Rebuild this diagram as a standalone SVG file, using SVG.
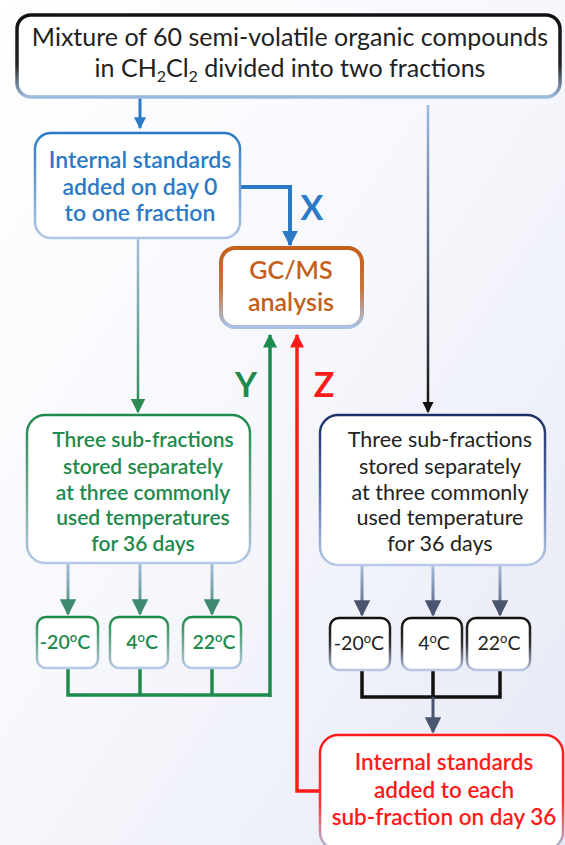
<svg xmlns="http://www.w3.org/2000/svg" width="565" height="845" viewBox="0 0 565 845">
<defs>
<linearGradient id="bg" x1="0" y1="0" x2="1" y2="1"><stop offset="0" stop-color="#ffffff"/><stop offset="0.5" stop-color="#f6f7fc"/><stop offset="1" stop-color="#e6e8f5"/></linearGradient>
<linearGradient id="gTop" x1="0" y1="0" x2="0" y2="1"><stop offset="0" stop-color="#111"/><stop offset="0.6" stop-color="#222"/><stop offset="1" stop-color="#9dbbe0"/></linearGradient>
<linearGradient id="gBlue" x1="0" y1="0" x2="0" y2="1"><stop offset="0" stop-color="#2a7ac6"/><stop offset="1" stop-color="#b0c6e6"/></linearGradient>
<linearGradient id="gOr" x1="0" y1="0" x2="0" y2="1"><stop offset="0" stop-color="#c4601c"/><stop offset="0.5" stop-color="#c8733a"/><stop offset="1" stop-color="#a9c2e6"/></linearGradient>
<linearGradient id="gGreen" x1="0" y1="0" x2="0" y2="1"><stop offset="0" stop-color="#1e8a4c"/><stop offset="0.5" stop-color="#6aa88a"/><stop offset="1" stop-color="#b8c8e6"/></linearGradient>
<linearGradient id="gNavy" x1="0" y1="0" x2="0" y2="1"><stop offset="0" stop-color="#1c2f66"/><stop offset="0.5" stop-color="#5570a8"/><stop offset="1" stop-color="#b8c8e6"/></linearGradient>
<linearGradient id="gBlack" x1="0" y1="0" x2="0" y2="1"><stop offset="0" stop-color="#111"/><stop offset="0.5" stop-color="#333"/><stop offset="1" stop-color="#b8c8e6"/></linearGradient>
<linearGradient id="gRed" x1="0" y1="0" x2="0" y2="1"><stop offset="0" stop-color="#ff1a1a"/><stop offset="0.6" stop-color="#ff3030"/><stop offset="1" stop-color="#a9c2e6"/></linearGradient>
<linearGradient id="gConG" gradientUnits="userSpaceOnUse" x1="0" y1="238" x2="0" y2="415"><stop offset="0" stop-color="#a8bedf"/><stop offset="1" stop-color="#2c8a55"/></linearGradient>
<linearGradient id="gConSG" gradientUnits="userSpaceOnUse" x1="0" y1="563" x2="0" y2="617"><stop offset="0" stop-color="#a8bedf"/><stop offset="1" stop-color="#3f8a6e"/></linearGradient>
<linearGradient id="gConSN" gradientUnits="userSpaceOnUse" x1="0" y1="565" x2="0" y2="618"><stop offset="0" stop-color="#a8bedf"/><stop offset="1" stop-color="#4a5570"/></linearGradient>
<linearGradient id="gConD" gradientUnits="userSpaceOnUse" x1="0" y1="105" x2="0" y2="415"><stop offset="0" stop-color="#9dbbe0"/><stop offset="1" stop-color="#111"/></linearGradient>
<marker id="aBlue" viewBox="0 0 10 10" refX="9" refY="5" markerWidth="4" markerHeight="4" orient="auto"><path d="M0,0 L10,5 L0,10 z" fill="#2a7ac6"/></marker>
<marker id="aGreen" viewBox="0 0 10 10" refX="9" refY="5" markerWidth="4" markerHeight="4" orient="auto"><path d="M0,0 L10,5 L0,10 z" fill="#1e8a4c"/></marker>
<marker id="aGreenL" viewBox="0 0 10 10" refX="9" refY="5" markerWidth="6" markerHeight="6" orient="auto"><path d="M0,0 L10,5 L0,10 z" fill="#2c8a55"/></marker>
<marker id="aTeal" viewBox="0 0 10 10" refX="9" refY="5" markerWidth="5.5" markerHeight="5.5" orient="auto"><path d="M0,0 L10,5 L0,10 z" fill="#3f8a6e"/></marker>
<marker id="aSlate" viewBox="0 0 10 10" refX="9" refY="5" markerWidth="5.5" markerHeight="5.5" orient="auto"><path d="M0,0 L10,5 L0,10 z" fill="#4a5570"/></marker>
<marker id="aBlack" viewBox="0 0 10 10" refX="9" refY="5" markerWidth="4.5" markerHeight="4.5" orient="auto"><path d="M0,0 L10,5 L0,10 z" fill="#111"/></marker>
<marker id="aRed" viewBox="0 0 10 10" refX="9" refY="5" markerWidth="4" markerHeight="4" orient="auto"><path d="M0,0 L10,5 L0,10 z" fill="#ff1a1a"/></marker>
</defs>
<style>
text{font-family:Lato,"Open Sans","Liberation Sans",sans-serif;text-anchor:middle}
.box{fill:#fff}
.t-top{font-size:25px;fill:#222}
.t-blue{font-size:23px;fill:#2a7ac6;font-weight:600}
.t-or{font-size:25px;fill:#c4601c;font-weight:600}
.t-green{font-size:21px;fill:#1e8a4c;font-weight:600}
.t-dark{font-size:21.5px;fill:#222}
.t-red{font-size:22.5px;fill:#ff1a1a;font-weight:600}
.t-sg{font-size:19.5px;fill:#1e8a4c;font-weight:600}
.t-sd{font-size:19.5px;fill:#222}
.lbl{font-size:34px;font-weight:700}
.con{fill:none;stroke-linejoin:miter}
</style>
<rect width="565" height="845" fill="url(#bg)"/>

<g id="connectors">
<path class="con" d="M140,97 V128" stroke="#2a7ac6" stroke-width="3" marker-end="url(#aBlue)"/>
<path class="con" d="M428,105 V412" stroke="url(#gConD)" stroke-width="2.5" marker-end="url(#aBlack)"/>
<path class="con" d="M240,187 H290 V245" stroke="#2a7ac6" stroke-width="4" marker-end="url(#aBlue)"/>
<path class="con" d="M138,238 V412" stroke="url(#gConG)" stroke-width="2.5" marker-end="url(#aGreenL)"/>
<path class="con" d="M68,563 V614" stroke="url(#gConSG)" stroke-width="3" marker-end="url(#aTeal)"/>
<path class="con" d="M140,563 V614" stroke="url(#gConSG)" stroke-width="3" marker-end="url(#aTeal)"/>
<path class="con" d="M212,563 V614" stroke="url(#gConSG)" stroke-width="3" marker-end="url(#aTeal)"/>
<path class="con" d="M362,565 V615" stroke="url(#gConSN)" stroke-width="3" marker-end="url(#aSlate)"/>
<path class="con" d="M433,565 V615" stroke="url(#gConSN)" stroke-width="3" marker-end="url(#aSlate)"/>
<path class="con" d="M500,565 V615" stroke="url(#gConSN)" stroke-width="3" marker-end="url(#aSlate)"/>
<path class="con" d="M68,668 V695 H270 M140,668 V695 M212,668 V695" stroke="#1e8a4c" stroke-width="3.5"/>
<path class="con" d="M270,697 V335" stroke="#1e8a4c" stroke-width="3.5" marker-end="url(#aGreen)"/>
<path class="con" d="M362,670 V697 H500 V670 M433,670 V697" stroke="#111" stroke-width="3.5"/>
<path class="con" d="M433,697 V732" stroke="#4a5570" stroke-width="3" marker-end="url(#aSlate)"/>
<path class="con" d="M320,791 H297 V335" stroke="#ff1a1a" stroke-width="3.5" marker-end="url(#aRed)"/>
<text class="lbl" x="312" y="220" fill="#2a7ac6">X</text>
<text class="lbl" x="246" y="397" fill="#1e8a4c">Y</text>
<text class="lbl" x="324" y="397" fill="#ff1a1a">Z</text>
</g>

<g id="mixture">
<rect class="box" x="17" y="15" width="543" height="82" rx="14" stroke="url(#gTop)" stroke-width="3.5"/>
<text class="t-top" x="290" y="46">Mixture of 60 semi-volatile organic compounds</text>
<text class="t-top" x="290" y="77">in CH<tspan font-size="16" dy="5">2</tspan><tspan dy="-5">Cl</tspan><tspan font-size="16" dy="5">2</tspan><tspan dy="-5"> divided into two fractions</tspan></text>
</g>

<g id="is-day0">
<rect class="box" x="35" y="133" width="205" height="105" rx="16" stroke="url(#gBlue)" stroke-width="2.5"/>
<text class="t-blue" x="140" y="168">Internal standards</text>
<text class="t-blue" x="140" y="195">added on day 0</text>
<text class="t-blue" x="140" y="221">to one fraction</text>
</g>

<g id="gcms">
<rect class="box" x="221" y="248" width="141" height="79" rx="14" stroke="url(#gOr)" stroke-width="4"/>
<text class="t-or" x="291" y="279">GC/MS</text>
<text class="t-or" x="291" y="311">analysis</text>
</g>

<g id="green-sub">
<rect class="box" x="27" y="415" width="223" height="148" rx="18" stroke="url(#gGreen)" stroke-width="2.5"/>
<text class="t-green" x="143" y="447">Three sub-fractions</text>
<text class="t-green" x="143" y="474">stored separately</text>
<text class="t-green" x="143" y="500">at three commonly</text>
<text class="t-green" x="143" y="525">used temperatures</text>
<text class="t-green" x="143" y="551">for 36 days</text>
</g>

<g id="dark-sub">
<rect class="box" x="320" y="415" width="225" height="150" rx="18" stroke="url(#gNavy)" stroke-width="2.5"/>
<text class="t-dark" x="440" y="447">Three sub-fractions</text>
<text class="t-dark" x="440" y="474">stored separately</text>
<text class="t-dark" x="440" y="500">at three commonly</text>
<text class="t-dark" x="440" y="525">used temperature</text>
<text class="t-dark" x="440" y="551">for 36 days</text>
</g>

<g id="g-m20">
<rect class="box" x="37" y="617" width="61" height="51" rx="9" stroke="url(#gGreen)" stroke-width="2.5"/>
<text class="t-sg" x="65" y="649">-20<tspan font-size="13" dy="-7">o</tspan><tspan dy="7">C</tspan></text>
</g>
<g id="g-4">
<rect class="box" x="110" y="617" width="58" height="51" rx="9" stroke="url(#gGreen)" stroke-width="2.5"/>
<text class="t-sg" x="142" y="649">4<tspan font-size="13" dy="-7">o</tspan><tspan dy="7">C</tspan></text>
</g>
<g id="g-22">
<rect class="box" x="183" y="617" width="58" height="51" rx="9" stroke="url(#gGreen)" stroke-width="2.5"/>
<text class="t-sg" x="214" y="649">22<tspan font-size="13" dy="-7">o</tspan><tspan dy="7">C</tspan></text>
</g>

<g id="d-m20">
<rect class="box" x="330" y="618" width="60" height="52" rx="9" stroke="url(#gBlack)" stroke-width="2.5"/>
<text class="t-sd" x="359" y="650">-20<tspan font-size="13" dy="-7">o</tspan><tspan dy="7">C</tspan></text>
</g>
<g id="d-4">
<rect class="box" x="402" y="618" width="60" height="52" rx="9" stroke="url(#gBlack)" stroke-width="2.5"/>
<text class="t-sd" x="434" y="650">4<tspan font-size="13" dy="-7">o</tspan><tspan dy="7">C</tspan></text>
</g>
<g id="d-22">
<rect class="box" x="467" y="618" width="63" height="52" rx="9" stroke="url(#gBlack)" stroke-width="2.5"/>
<text class="t-sd" x="499" y="650">22<tspan font-size="13" dy="-7">o</tspan><tspan dy="7">C</tspan></text>
</g>

<g id="is-day36">
<rect class="box" x="320" y="735" width="243" height="115" rx="18" stroke="url(#gRed)" stroke-width="2.5"/>
<text class="t-red" x="444" y="770">Internal standards</text>
<text class="t-red" x="444" y="798">added to each</text>
<text class="t-red" x="444" y="825">sub-fraction on day 36</text>
</g>
</svg>
